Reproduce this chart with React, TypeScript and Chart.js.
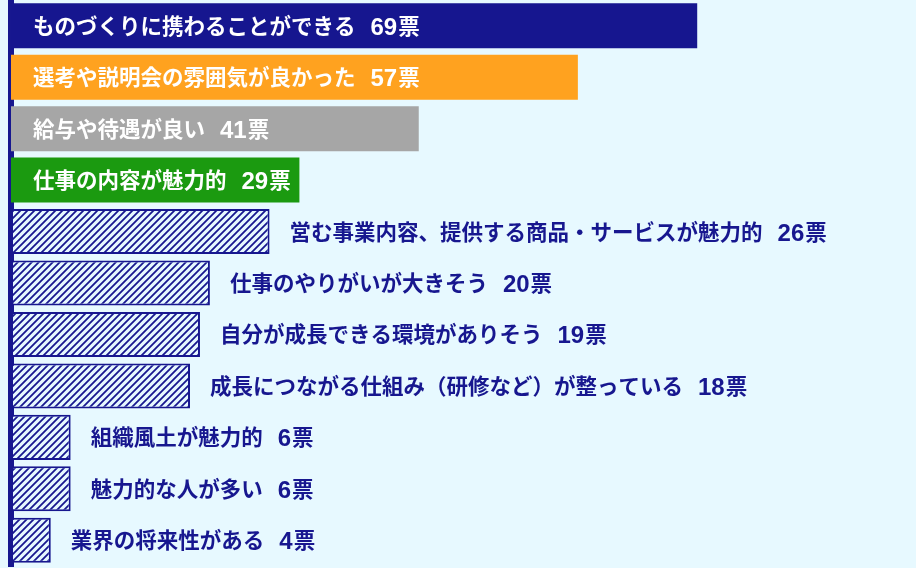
import { useEffect, useRef } from 'react';
import Chart from 'chart.js/auto';

// reasons for choosing the company, top to bottom
const reasons = [
    'ものづくりに携わることができる',
    '選考や説明会の雰囲気が良かった',
    '給与や待遇が良い',
    '仕事の内容が魅力的',
    '営む事業内容、提供する商品・サービスが魅力的',
    '仕事のやりがいが大きそう',
    '自分が成長できる環境がありそう',
    '成長につながる仕組み（研修など）が整っている',
    '組織風土が魅力的',
    '魅力的な人が多い',
    '業界の将来性がある',
];
const votes = [69, 57, 41, 29, 26, 20, 19, 18, 6, 6, 4];
const voteUnit = '票';

// first four bars are solid, the rest are hatched
const solidColors = ['#16168f', '#ffa21f', '#a6a6a6', '#1b9a10'];

const BG = '#e7f9ff';
const NAVY = '#17178f';
const TEXT_FONT = 'bold 21.5px "Noto Sans CJK JP", sans-serif';
const NUM_FONT = 'bold 24px "Liberation Sans", sans-serif';

function makeHatch(): CanvasPattern | string {
    const size = 7;
    const c = document.createElement('canvas');
    c.width = size;
    c.height = size;
    const g = c.getContext('2d');
    if (!g) return NAVY;
    g.fillStyle = BG;
    g.fillRect(0, 0, size, size);
    g.strokeStyle = NAVY;
    g.lineWidth = 1.8;
    g.beginPath();
    g.moveTo(0, size);
    g.lineTo(size, 0);
    g.moveTo(-2, 2);
    g.lineTo(2, -2);
    g.moveTo(size - 2, size + 2);
    g.lineTo(size + 2, size - 2);
    g.stroke();
    return g.createPattern(c, 'repeat') || NAVY;
}

const labelPlugin = {
    id: 'barLabels',
    afterDatasetsDraw(chart: Chart) {
        const { ctx, chartArea } = chart;
        const meta = chart.getDatasetMeta(0);
        ctx.save();
        ctx.textBaseline = 'alphabetic';
        meta.data.forEach((bar, i) => {
            const inside = i < solidColors.length;
            let x = inside ? chartArea.left + 22 : bar.x + 20;
            const base = bar.y + 8;
            ctx.fillStyle = inside ? '#ffffff' : NAVY;
            ctx.font = TEXT_FONT;
            ctx.fillText(reasons[i], x, base);
            x += ctx.measureText(reasons[i]).width + 15;
            ctx.font = NUM_FONT;
            const num = String(votes[i]);
            ctx.fillText(num, x, base + 1);
            x += ctx.measureText(num).width + 1;
            ctx.font = TEXT_FONT;
            ctx.fillText(voteUnit, x, base);
        });
        ctx.restore();
    },
};

export default function App() {
    const canvasRef = useRef<HTMLCanvasElement>(null);
    const chartInstance = useRef<Chart | null>(null);

    useEffect(() => {
        if (!canvasRef.current) return;
        const ctx = canvasRef.current.getContext('2d');
        if (!ctx) return;

        const hatch = makeHatch();
        const fills = votes.map((_, i) => (i < solidColors.length ? solidColors[i] : hatch));
        const borders = votes.map((_, i) => (i < solidColors.length ? 0 : 2));

        chartInstance.current = new Chart(ctx, {
            type: 'bar',
            data: {
                labels: reasons,
                datasets: [
                    {
                        data: votes,
                        backgroundColor: fills,
                        borderColor: NAVY,
                        borderWidth: borders,
                        borderSkipped: false,
                        barPercentage: 0.875,
                        categoryPercentage: 1,
                    },
                ],
            },
            options: {
                indexAxis: 'y',
                animation: false,
                responsive: true,
                maintainAspectRatio: false,
                layout: { padding: { top: 0, bottom: 2, left: 0, right: 0 } },
                plugins: {
                    legend: { display: false },
                    tooltip: { enabled: false },
                },
                scales: {
                    x: {
                        display: false,
                        min: 0,
                        max: 91,
                    },
                    y: {
                        grid: { display: false },
                        ticks: { display: false },
                        border: { display: true, color: NAVY, width: 6 },
                        afterFit: (scale) => {
                            scale.width = 11;
                        },
                    },
                },
            },
            plugins: [labelPlugin],
        });

        return () => {
            if (chartInstance.current) {
                chartInstance.current.destroy();
            }
        };
    }, []);

    return (
        <div style={{ position: 'fixed', left: 0, top: 0, width: 916, height: 568, background: BG }}>
            <canvas ref={canvasRef} />
        </div>
    );
}
